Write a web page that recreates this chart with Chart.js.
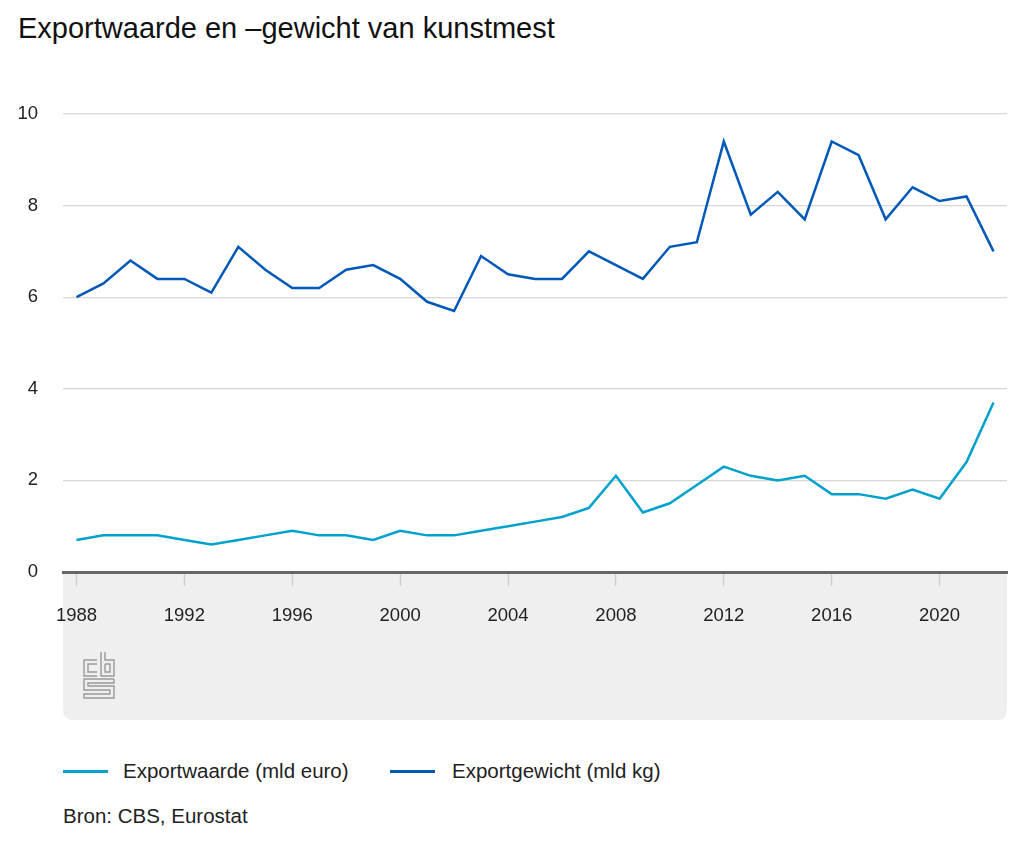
<!DOCTYPE html>
<html>
<head>
<meta charset="utf-8">
<script src="https://cdn.jsdelivr.net/npm/chart.js@4/dist/chart.umd.min.js"></script>
<style>
  html, body { margin:0; padding:0; background:#fff; width:1024px; height:853px; overflow:hidden; font-family:"Liberation Sans", Arial, sans-serif; }
  #title { position:absolute; left:18px; top:12px; font-size:29px; color:#111; white-space:nowrap; }
  #wrap { position:absolute; left:0; top:0; width:1024px; height:725px; }
  .leg { position:absolute; top:759px; font-size:20.5px; color:#222; white-space:nowrap; line-height:24px; }
  .leg span.sw { position:absolute; top:11px; width:45px; height:3px; }
  #src { position:absolute; left:63px; top:804px; font-size:20.5px; color:#222; white-space:nowrap; line-height:24px; }
</style>
</head>
<body>
<div id="title">Exportwaarde en –gewicht van kunstmest</div>
<div id="wrap"><canvas id="c" width="1024" height="725"></canvas></div>
<div class="leg" style="left:63px;"><span class="sw" style="left:0;background:#00a1cd;"></span><span style="position:relative;left:60px;">Exportwaarde (mld euro)</span></div>
<div class="leg" style="left:390px;"><span class="sw" style="left:0;background:#0058b8;"></span><span style="position:relative;left:62px;">Exportgewicht (mld kg)</span></div>
<div id="src">Bron: CBS, Eurostat</div>
<script>
const years = ['1988','1989','1990','1991','1992','1993','1994','1995','1996','1997','1998','1999','2000','2001','2002','2003','2004','2005','2006','2007','2008','2009','2010','2011','2012','2013','2014','2015','2016','2017','2018','2019','2020','2021','2022'];
const exportwaarde = [0.7,0.8,0.8,0.8,0.7,0.6,0.7,0.8,0.9,0.8,0.8,0.7,0.9,0.8,0.8,0.9,1.0,1.1,1.2,1.4,2.1,1.3,1.5,1.9,2.3,2.1,2.0,2.1,1.7,1.7,1.6,1.8,1.6,2.4,3.7];
const exportgewicht = [6.0,6.3,6.8,6.4,6.4,6.1,7.1,6.6,6.2,6.2,6.6,6.7,6.4,5.9,5.7,6.9,6.5,6.4,6.4,7.0,6.7,6.4,7.1,7.2,9.4,7.8,8.3,7.7,9.4,9.1,7.7,8.4,8.1,8.2,7.0];
const yTicks = [0,2,4,6,8,10];

const panelPlugin = {
  id: 'panel',
  beforeDraw(chart) {
    const {ctx, chartArea} = chart;
    ctx.save();
    ctx.fillStyle = '#efefef';
    ctx.beginPath();
    ctx.roundRect(chartArea.left, chartArea.bottom, chartArea.right - chartArea.left, 720 - chartArea.bottom, [0,0,9,9]);
    ctx.fill();
    ctx.restore();
  },
  afterDraw(chart) {
    const ctx = chart.ctx;
    const x0 = chart.chartArea.left + 21, y0 = 652;
    ctx.save();
    ctx.strokeStyle = '#9a9a9a';
    ctx.lineWidth = 1.4;
    const p = (pts) => { ctx.beginPath(); pts.forEach((q,i)=> i? ctx.lineTo(x0+q[0], y0+q[1]) : ctx.moveTo(x0+q[0], y0+q[1])); ctx.stroke(); };
    // c
    p([[13,8],[0,8],[0,24],[13,24]]);
    p([[13,12],[4,12],[4,20],[13,20]]);
    // b
    p([[17,0],[17,24],[30,24],[30,8],[21,8],[21,0]]);
    p([[21,12],[26,12],[26,20],[21,20],[21,12]]);
    // S
    p([[30,27],[0,27],[0,38],[26,38],[26,42],[0,42],[0,46],[30,46],[30,34],[4,34],[4,31],[30,31],[30,27]]);
    ctx.restore();
  }
};

new Chart(document.getElementById('c'), {
  type: 'line',
  data: {
    labels: years,
    datasets: [
      { label: 'Exportwaarde (mld euro)', data: exportwaarde, borderColor: '#00a1cd', backgroundColor: '#00a1cd', borderWidth: 2.5, pointRadius: 0, tension: 0, fill: false },
      { label: 'Exportgewicht (mld kg)', data: exportgewicht, borderColor: '#0058b8', backgroundColor: '#0058b8', borderWidth: 2.5, pointRadius: 0, tension: 0, fill: false }
    ]
  },
  options: {
    responsive: false,
    animation: false,
    layout: { padding: { top: 114, right: 17, left: 0, bottom: 0 } },
    plugins: { legend: { display: false }, tooltip: { enabled: false }, title: { display: false } },
    scales: {
      x: {
        offset: true,
        afterFit(scale) { scale.height = 153; },
        border: { display: true, color: '#666', width: 3 },
        grid: { drawOnChartArea: false, drawTicks: true, tickLength: 14, offset: false,
                tickColor: (ctx) => (ctx.index % 4 === 0 ? '#cfcfcf' : 'rgba(0,0,0,0)'), tickWidth: 1.5 },
        ticks: { autoSkip: false, maxRotation: 0, padding: 19, color: '#222',
                 font: { family: '"Liberation Sans", Arial, sans-serif', size: 18.5 },
                 callback: (v, i) => (i % 4 === 0 ? years[i] : '') }
      },
      y: {
        min: 0, max: 10,
        afterFit(scale) { scale.width = 63; },
        afterBuildTicks(scale) { scale.ticks = yTicks.map(v => ({ value: v })); },
        border: { display: false },
        grid: { color: '#d6d6d6', lineWidth: 1.2, drawTicks: false },
        ticks: { padding: 25, color: '#222', font: { family: '"Liberation Sans", Arial, sans-serif', size: 18.5 } }
      }
    }
  },
  plugins: [panelPlugin]
});
</script>
</body>
</html>
